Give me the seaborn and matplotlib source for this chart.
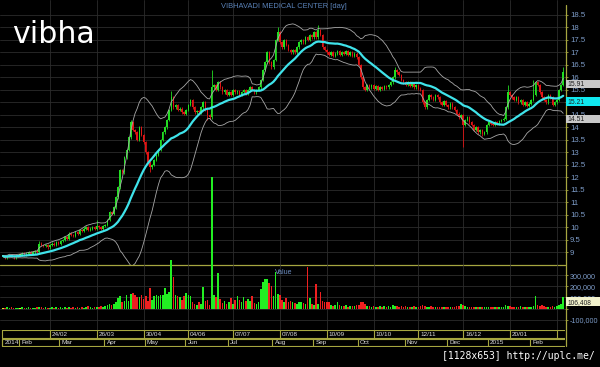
import numpy as np
import pandas as pd
import matplotlib
matplotlib.use("Agg")
import matplotlib.pyplot as plt
import seaborn as sns
from matplotlib.patches import Rectangle
from matplotlib.lines import Line2D
from matplotlib.transforms import blended_transform_factory

# ---------------- data ----------------
close_jan = [8.85, 8.80, 8.85, 8.90, 8.85, 8.80, 8.85, 8.90]
close_feb = [8.90, 8.95, 8.90, 8.95, 9.00, 8.95, 9.00, 9.05, 9.00,
             9.35, 9.30, 9.25, 9.30, 9.20, 9.30, 9.35, 9.30, 9.40, 9.35, 9.45]
close_mar = [9.50, 9.60, 9.55, 9.75, 9.70, 9.65, 9.80, 9.75, 9.90, 9.85, 9.95,
             10.00, 9.90, 9.95, 10.00, 9.95, 10.05, 10.00, 9.95, 10.05, 10.10]
close_apr = [10.30, 10.60, 10.55, 10.80, 11.20, 11.60, 12.30, 12.20, 12.80, 13.10,
             13.60, 14.20, 13.90, 13.80, 13.50, 14.00, 13.70, 13.40, 13.00, 12.60,
             12.40, 12.50]
close_may = [12.70, 12.90, 13.10, 13.50, 13.80, 14.00, 14.30, 14.70, 15.20,
             14.80, 14.90, 14.70, 14.75, 14.60, 14.55, 14.70, 14.90, 15.10, 14.80,
             14.60, 14.65]
close_jun = [14.60, 14.80, 15.00, 14.70, 14.50, 14.40, 15.60,
             15.70, 15.50, 15.80, 15.60, 15.40, 15.50, 15.30]
close_jul = [15.40, 15.30, 15.50, 15.40, 15.45, 15.30, 15.40, 15.50, 15.35, 15.50,
             15.60, 15.50, 15.40, 15.50, 15.60,
             15.90, 16.30, 16.60, 17.00, 16.60, 16.40, 16.70]
close_aug = [17.50, 17.80, 17.40, 17.20, 17.50, 17.30, 17.10, 17.00,
             17.10, 17.00, 17.20, 17.40,
             17.50, 17.40, 17.60, 17.50, 17.70, 17.60, 17.80, 17.60, 17.90, 17.70]
close_sep = [17.20, 17.10, 17.00, 16.90, 17.00, 16.85, 16.95, 17.05, 16.90, 17.00,
             16.95, 17.05, 16.90, 17.00, 16.85, 16.95, 16.80,
             16.50, 16.00, 15.60, 15.50, 15.70]
close_oct = [15.60, 15.70, 15.55, 15.65, 15.50, 15.60, 15.55, 15.65, 15.60, 15.70,
             15.80, 16.00, 16.30, 16.20, 16.10, 15.90]
close_nov = [15.80, 15.70, 15.80, 15.65, 15.75, 15.60, 15.70, 15.55, 15.50,
             15.00, 14.80, 15.10, 15.30, 15.20, 15.10, 15.30, 15.20]
close_dec = [15.00, 14.90, 15.05, 14.90, 14.80, 14.95, 14.80, 14.70,
             14.55, 14.40, 14.50, 14.10, 14.30, 14.40, 14.20,
             14.10, 13.90, 14.00, 13.80, 13.90, 13.75, 13.80]
close_jan15 = [14.10, 14.20, 14.15, 14.10, 14.20, 14.15, 14.25, 14.30, 14.35,
               14.80, 15.40, 15.30, 15.20, 15.10, 15.20, 15.00, 15.10,
               14.90, 15.00, 14.85, 14.95, 15.10]
close_feb15 = [15.30, 15.80, 15.70, 15.40, 15.20, 15.10, 15.00, 15.30,
               15.20, 14.90, 15.00, 15.10, 15.50, 15.70, 16.20]
close = (close_jan + close_feb + close_mar + close_apr + close_may + close_jun +
         close_jul + close_aug + close_sep + close_oct + close_nov + close_dec +
         close_jan15 + close_feb15)

# notable wick extremes (index: price)
high_marks = {17: 9.45, 44: 10.30, 60: 14.30, 79: 15.45, 98: 16.30, 129: 18.00,
              148: 18.10, 184: 16.40, 237: 15.70, 249: 15.90, 263: 16.40}
low_marks = {69: 12.20, 96: 14.30, 216: 13.20, 225: 13.65}

# volume, thousands of shares
vol_jan = [8, 5, 12, 6, 10, 4, 7, 9]
vol_feb = [6, 10, 5, 8, 12, 7, 9, 6, 10, 18, 12, 8, 10, 6, 9, 14, 7, 10, 8, 12]
vol_mar = [9, 11, 7, 13, 8, 10, 6, 12, 9, 15, 8, 10, 20, 12, 9, 14, 18, 10, 22, 16, 25]
vol_apr = [30, 38, 28, 45, 60, 95, 110, 55, 70, 120, 65, 130,
           140, 120, 100, 105, 125, 90, 110, 70, 185, 80]
vol_may = [115, 120, 110, 125, 118, 182, 135, 150, 438,
           287, 120, 110, 105, 75, 115, 140, 125, 110, 60, 45, 35]
vol_jun = [55, 40, 195, 70, 80, 30, 1190, 120, 105, 320, 90, 50, 70, 40]
vol_jul = [60, 95, 45, 80, 110, 75, 55, 100, 65, 85, 70, 110, 50, 40, 60,
           180, 240, 265, 270, 230, 200, 110]
vol_aug = [330, 135, 120, 75, 60, 95, 55, 70, 60, 50, 45, 55,
           60, 50, 45, 377, 95, 40, 35, 221, 40, 146]
vol_sep = [65, 60, 55, 62, 30, 25, 35, 61, 28, 20, 25, 30, 18, 22, 25, 20, 28,
           35, 61, 58, 40, 25]
vol_oct = [20, 15, 25, 18, 12, 22, 15, 20, 18, 25, 15, 30, 25, 20, 18, 22]
vol_nov = [15, 20, 12, 18, 15, 22, 14, 18, 20, 30, 25, 18, 15, 20, 12, 16, 14]
vol_dec = [12, 10, 15, 12, 18, 10, 14, 12, 20, 25, 40, 30, 20, 15, 18,
           12, 15, 10, 18, 12, 14, 10]
vol_jan15 = [12, 10, 14, 12, 10, 15, 12, 14, 16, 30, 25, 20, 15, 12, 18, 14, 20,
             12, 16, 14, 18, 15]
vol_feb15 = [20, 113, 30, 25, 35, 20, 15, 18, 14, 20, 16, 25, 30, 40, 106.408]
volume_k = (vol_jan + vol_feb + vol_mar + vol_apr + vol_may + vol_jun + vol_jul +
            vol_aug + vol_sep + vol_oct + vol_nov + vol_dec + vol_jan15 + vol_feb15)

# axis labels
date_tick_idx = [22, 44, 66, 87, 108, 130, 152, 174, 195, 216, 238, 260]
date_tick_lbl = ['24/02', '26/03', '30/04', '04/06', '07/07', '07/08', '10/09',
                 '10/10', '12/11', '16/12', '20/01', '']
month_idx = [-0.5, 8, 27, 48, 67, 86, 106, 127, 146, 167, 189, 209, 228, 248]
month_lbl = ['2014', 'Feb', 'Mar', 'Apr', 'May', 'Jun', 'Jul', 'Aug', 'Sep',
             'Oct', 'Nov', 'Dec', '2015', 'Feb']
price_ticks = [9, 9.5, 10, 10.5, 11, 11.5, 12, 12.5, 13, 13.5, 14, 14.5, 15,
               15.5, 16, 16.5, 17, 17.5, 18, 18.5]
hidden_price_ticks = [15]          # covered by the MA value box
vol_ticks = [-100000, 0, 100000, 200000, 300000]
vol_tick_lbl = ['-100,000', '', '100,000', '200,000', '300,000']   # 0 is covered
last_upper, last_ma, last_lower = 15.91, 15.21, 14.51
title = 'VIBHAVADI MEDICAL CENTER [day]'

# ---------------- derived ----------------
n = len(close)
idx = np.arange(n)
c = np.array(close, dtype=float)
o = np.concatenate([[c[0]], c[:-1]])
hi = np.maximum(o, c) + 0.05
lo = np.minimum(o, c) - 0.05
for k, v in high_marks.items():
    hi[k] = max(hi[k], v)
for k, v in low_marks.items():
    lo[k] = min(lo[k], v)
s = pd.Series(c)
ma = s.rolling(20, min_periods=1).mean()
sd = s.rolling(20, min_periods=1).std(ddof=0)
df = pd.DataFrame({'i': idx, 'ma': ma, 'up': ma + 2 * sd, 'dn': ma - 2 * sd})
vol = np.array(volume_k) * 1000.0

up = c > o
dn = c < o
GREEN, RED, YEL = '#22dd22', '#e01515', '#e6e620'
cand_col = np.where(up, GREEN, np.where(dn, RED, YEL))
vol_col = np.where(up, '#22ee22', np.where(dn, '#ee2020', '#e8e820'))

# ---------------- figure ----------------
sns.set_theme(style="dark", rc={"axes.facecolor": "black", "figure.facecolor": "black"})
plt.rcParams['font.family'] = ['Liberation Sans', 'DejaVu Sans']

W, H = 600, 367
fig = plt.figure(figsize=(6, 3.67), dpi=100, facecolor='black')
OLIVE = '#a6a640'
GRID = '#2c2c2c'
TICKC = '#7d9cc8'
xl = ((0 - 3) / 2.13, (565 - 3) / 2.13)

def fx(px):
    return px / W

def fy(py):
    return 1 - py / H

# price panel (y pixels 0..264.5)
axp = fig.add_axes([0, fy(264.5), fx(565), 264.5 / H])
axp.set_facecolor('black')
axp.set_xlim(*xl)
axp.set_ylim(13 - (264.5 - 152.3) / 25, 13 + 152.3 / 25)
for sp in axp.spines.values():
    sp.set_visible(False)
axp.yaxis.tick_right()
axp.set_yticks(price_ticks)
axp.set_yticklabels(['' if t in hidden_price_ticks else f'{t:g}' for t in price_ticks])
axp.tick_params(axis='y', colors=OLIVE, labelcolor=TICKC, labelsize=5.6,
                length=2, width=0.6, pad=1.5, direction='out')
axp.set_xticks(date_tick_idx)
axp.tick_params(axis='x', length=0, labelbottom=False)
axp.grid(True, color=GRID, linewidth=0.6)
axp.set_axisbelow(True)

# candles
axp.vlines(idx, lo, hi, colors=cand_col, linewidth=0.6, zorder=3)
body = np.maximum(np.abs(c - o), 0.03)
axp.bar(idx, body, bottom=np.minimum(o, c), width=0.7, color=cand_col,
        linewidth=0, zorder=3)

# moving average and bands
sns.lineplot(data=df, x='i', y='up', ax=axp, color='#a8a8a8', linewidth=0.6, zorder=4)
sns.lineplot(data=df, x='i', y='dn', ax=axp, color='#a8a8a8', linewidth=0.6, zorder=4)
sns.lineplot(data=df, x='i', y='ma', ax=axp, color='#3fe3ea', linewidth=1.6, zorder=5)
axp.set_xlabel('')
axp.set_ylabel('')

# volume panel (y pixels 264.5..330)
axv = fig.add_axes([0, fy(330), fx(565), (330 - 264.5) / H], zorder=3)
axv.patch.set_alpha(0)
axv.set_xlim(*xl)
axv.set_ylim((308.5 - 330) / 11.08 * 1e5, (308.5 - 264.5) / 11.08 * 1e5)
for sp in axv.spines.values():
    sp.set_visible(False)
axv.yaxis.tick_right()
axv.set_yticks(vol_ticks)
axv.set_yticklabels(vol_tick_lbl)
axv.tick_params(axis='y', colors=OLIVE, labelcolor=TICKC, labelsize=5.2,
                length=2, width=0.6, pad=1.5, direction='out')
axv.set_xticks(date_tick_idx)
axv.tick_params(axis='x', length=0, labelbottom=False)
axv.grid(True, color=GRID, linewidth=0.6)
axv.set_axisbelow(True)
axv.bar(idx, vol, width=0.75, color=vol_col, linewidth=0, clip_on=False, zorder=3)
axv.text(fx(275) / fx(565), 0.88, 'Value', transform=axv.transAxes, color='#6f90c4',
         fontsize=5, va='center', ha='left')

# date rows
axd = fig.add_axes([0, fy(347), fx(565), 17.5 / H])
axd.set_facecolor('black')
axd.set_xlim(*xl)
axd.set_ylim(347, 329.5)
axd.axis('off')
x_left = (2 - 3) / 2.13
x_right = xl[1]
for yy in (330, 337.5, 338.7, 346):
    axd.plot([x_left, x_right], [yy, yy], color=OLIVE, linewidth=0.8)
axd.plot([x_left, x_left], [330, 337.5], color=OLIVE, linewidth=0.8)
axd.plot([x_left, x_left], [338.7, 346], color=OLIVE, linewidth=0.8)
for t, lbl in zip(date_tick_idx, date_tick_lbl):
    axd.plot([t, t], [330, 337.5], color=OLIVE, linewidth=0.8)
    axd.text(t + 0.9, 334, lbl, color='#dcdcdc', fontsize=4.6, va='center', ha='left')
for t, lbl in zip(month_idx, month_lbl):
    p = t - 0.5 if t > 0 else x_left
    axd.plot([p, p], [338.7, 346], color=OLIVE, linewidth=0.8)
    axd.text(p + 1.1, 342.5, lbl, color='#dcdcdc', fontsize=4.6, va='center', ha='left')

# frame lines
fig.add_artist(Line2D([0, fx(565)], [fy(264.5), fy(264.5)], color=OLIVE, linewidth=0.9))
fig.add_artist(Line2D([fx(565.5), fx(565.5)], [fy(346), fy(5)], color=OLIVE, linewidth=0.9))

# value boxes on the right axis
tp = blended_transform_factory(fig.transFigure, axp.transData)
for val, fc in ((last_upper, '#c8c8c8'), (last_ma, '#10e8f0'), (last_lower, '#c8c8c8')):
    fig.add_artist(Rectangle((fx(566), val - 0.34), fx(34), 0.34, transform=tp,
                             facecolor=fc, edgecolor='none', zorder=6))
    fig.text(fx(567.5), val - 0.215, f'{val:.2f}', transform=tp, color='#202020',
             fontsize=4.9, va='center', ha='left', zorder=7)
tv = blended_transform_factory(fig.transFigure, axv.transData)
last_vol = vol[-1]
fig.add_artist(Rectangle((fx(566), last_vol - 0.8e5), fx(34), 0.8e5, transform=tv,
                         facecolor='#f2f2cc', edgecolor='none', zorder=6))
fig.text(fx(567.5), last_vol - 0.56e5, f'{int(round(last_vol)):,}', transform=tv,
         color='#202020', fontsize=4.8, va='center', ha='left', zorder=7)

# texts
fig.text(fx(284), fy(7), title, color='#5a82b8', fontsize=5.4, ha='center', va='center')
fig.text(fx(12), fy(42.7), 'vibha', color='white', fontsize=21.6, family='DejaVu Sans',
         ha='left', va='baseline')
fig.text(fx(595), fy(356), '[1128x653] http://uplc.me/', color='white', fontsize=7,
         family='DejaVu Sans Mono', ha='right', va='center')

fig.savefig('out.png', dpi=100, facecolor='black')
